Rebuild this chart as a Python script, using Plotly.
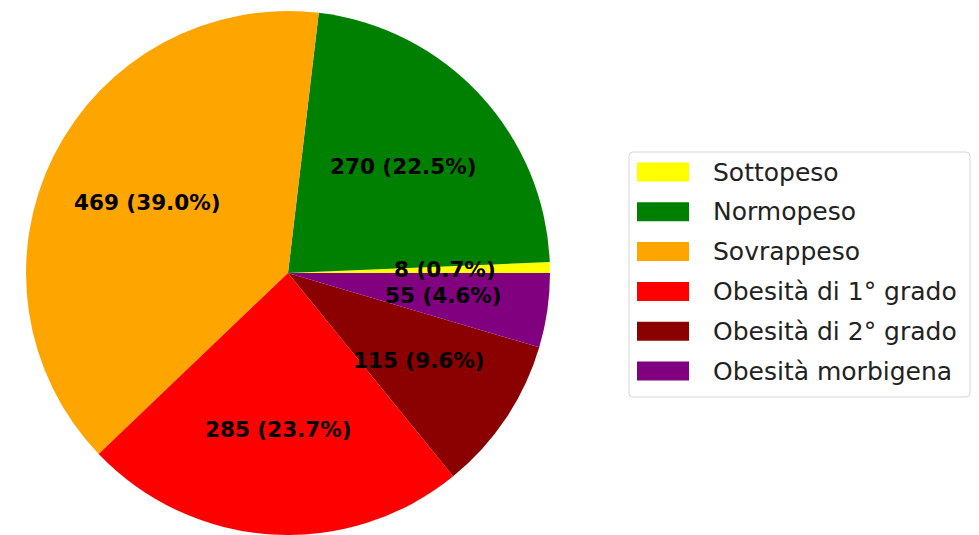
import math
import plotly.graph_objects as go

# BMI category counts
categories = ["Sottopeso", "Normopeso", "Sovrappeso", "Obesità di 1° grado",
              "Obesità di 2° grado", "Obesità morbigena"]
counts = [8, 270, 469, 285, 115, 55]
colors = ["#ffff00", "#008000", "#ffa500", "#ff0000", "#8b0000", "#800080"]

W, H = 979, 535
CX, CY, R = 288, 273, 262  # pie centre / radius in pixels

total = sum(counts)
# plotly's counterclockwise layout ends the first wedge at `rotation`;
# shift so the first wedge starts at 3 o'clock instead
rotation = 90 - 360.0 * counts[0] / total

fig = go.Figure(go.Pie(
    labels=categories,
    values=counts,
    marker=dict(colors=colors, line=dict(width=0)),
    sort=False,
    direction="counterclockwise",
    rotation=rotation,
    textinfo="none",
    hoverinfo="label+value+percent",
    showlegend=False,
    domain=dict(x=[(CX - R) / W, (CX + R) / W], y=[0, 2 * (H - CY) / H]),
))

# value labels placed at 60% of the radius, at each wedge's mid-angle
annotations = []
start = 0.0
for n in counts:
    span = 360.0 * n / total
    mid = math.radians(start + span / 2)
    px = CX + 0.6 * R * math.cos(mid)
    py = CY - 0.6 * R * math.sin(mid)
    annotations.append(dict(
        x=px / W, y=1 - py / H, xref="paper", yref="paper",
        text=f"<b>{n} ({100 * n / total:.1f}%)</b>", showarrow=False,
        xanchor="center", yanchor="middle",
        font=dict(family="DejaVu Sans", size=21.5, color="#000000"),
    ))
    start += span

# legend box drawn with shapes
shapes = []
lx0, ly0, lx1, ly1, rad = 629, 152, 970, 397, 4
path = (f"M {(lx0 + rad) / W} {1 - ly0 / H} L {(lx1 - rad) / W} {1 - ly0 / H} "
        f"Q {lx1 / W} {1 - ly0 / H} {lx1 / W} {1 - (ly0 + rad) / H} "
        f"L {lx1 / W} {1 - (ly1 - rad) / H} "
        f"Q {lx1 / W} {1 - ly1 / H} {(lx1 - rad) / W} {1 - ly1 / H} "
        f"L {(lx0 + rad) / W} {1 - ly1 / H} "
        f"Q {lx0 / W} {1 - ly1 / H} {lx0 / W} {1 - (ly1 - rad) / H} "
        f"L {lx0 / W} {1 - (ly0 + rad) / H} "
        f"Q {lx0 / W} {1 - ly0 / H} {(lx0 + rad) / W} {1 - ly0 / H} Z")
shapes.append(dict(type="path", path=path, xref="paper", yref="paper",
                   line=dict(color="#d6d6d6", width=1), fillcolor="white"))

row0, step = 172, 39.8
for i, (name, col) in enumerate(zip(categories, colors)):
    yc = row0 + i * step
    shapes.append(dict(type="rect", xref="paper", yref="paper",
                       x0=637 / W, x1=689 / W,
                       y0=1 - (yc - 9.5) / H, y1=1 - (yc + 9.5) / H,
                       fillcolor=col, line=dict(width=0)))
    annotations.append(dict(
        x=711 / W, y=1 - yc / H, xref="paper", yref="paper",
        text=name, showarrow=False, xanchor="left", yanchor="middle",
        font=dict(family="DejaVu Sans", size=25, color="#222222"),
    ))

fig.update_layout(
    width=W, height=H,
    margin=dict(l=0, r=0, t=0, b=0),
    paper_bgcolor="white",
    plot_bgcolor="white",
    shapes=shapes,
    annotations=annotations,
)

fig.write_html("out.html")
